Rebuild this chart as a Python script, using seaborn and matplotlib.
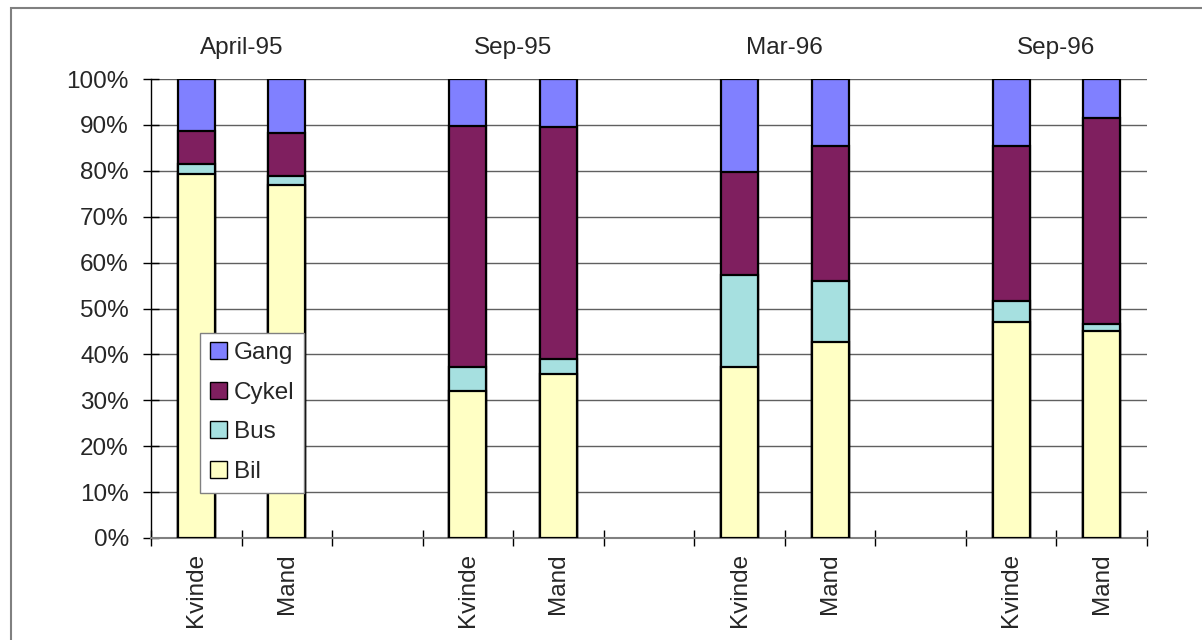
import numpy as np
import pandas as pd
import matplotlib
matplotlib.use("Agg")
import matplotlib.pyplot as plt
from matplotlib.patches import Patch, Rectangle
import seaborn as sns

# ---- data (percent of trips) ----
periods = ["April-95", "Sep-95", "Mar-96", "Sep-96"]
sexes = ["Kvinde", "Mand"]
modes = ["Gang", "Cykel", "Bus", "Bil"]  # legend order (top to bottom)
bil = [79.3, 76.8, 32.1, 35.7, 37.3, 42.7, 47.1, 45.2]
bus = [2.1, 2.1, 5.2, 3.3, 20.0, 13.4, 4.6, 1.5]
cykel = [7.3, 9.4, 52.5, 50.5, 22.4, 29.2, 33.6, 44.9]
gang = [11.3, 11.7, 10.2, 10.5, 20.3, 14.7, 14.7, 8.4]
colors = {"Gang": "#8080FF", "Cykel": "#7F1F5F", "Bus": "#A6E0E0", "Bil": "#FFFFC4"}

# ---- table ----
keys, per_col, sex_col = [], [], []
for p in periods:
    for s in sexes:
        keys.append(f"{p} {s}")
        per_col.append(p)
        sex_col.append(s)
df = pd.DataFrame({"key": keys, "period": per_col, "sex": sex_col,
                   "Bil": bil, "Bus": bus, "Cykel": cykel, "Gang": gang})
tot = df[["Bil", "Bus", "Cykel", "Gang"]].sum(axis=1)
for m in ["Bil", "Bus", "Cykel", "Gang"]:
    df[m] = df[m] / tot * 100
# cumulative tops for stacking (bottom -> top: Bil, Bus, Cykel, Gang)
df["c_Bil"] = df["Bil"]
df["c_Bus"] = df["c_Bil"] + df["Bus"]
df["c_Cykel"] = df["c_Bus"] + df["Cykel"]
df["c_Gang"] = df["c_Cykel"] + df["Gang"]

# category order with an empty slot between periods
order = []
for i, p in enumerate(periods):
    for s in sexes:
        order.append(f"{p} {s}")
    if i < len(periods) - 1:
        order.append(" " * (i + 1))

sns.set_style("white")
plt.rcParams["font.family"] = ["Liberation Sans", "DejaVu Sans"]
FS = 17.5

fig = plt.figure(figsize=(12.02, 6.4), dpi=100)
ax = fig.add_axes([151 / 1202, 102 / 640, (1147 - 151) / 1202, (538 - 79) / 640])

for m in ["Gang", "Cykel", "Bus", "Bil"]:
    sns.barplot(data=df, x="key", y=f"c_{m}", order=order, color=colors[m],
                saturation=1, edgecolor="black", linewidth=1.6, width=0.41,
                errorbar=None, ax=ax, zorder=3)

ax.set_xlabel("")
ax.set_ylabel("")
ax.set_ylim(0, 100)
ax.set_xlim(-0.5, len(order) - 0.5)

# y axis
yt = list(range(0, 101, 10))
ax.set_yticks(yt)
ax.set_yticklabels([f"{v}%" for v in yt], fontsize=FS)
ax.tick_params(axis="y", direction="inout", length=12, width=1, color="black",
               pad=10, left=True)
ax.yaxis.grid(True, color="#606060", linewidth=1)
ax.xaxis.grid(False)
ax.set_axisbelow(True)

# x axis: labels at bars, tick marks at slot boundaries
pos = [order.index(k) for k in keys]
ax.set_xticks(pos)
ax.set_xticklabels(sex_col, rotation=90, fontsize=FS)
ax.set_xticks(np.arange(-0.5, len(order), 1.0), minor=True)
ax.tick_params(axis="x", which="major", length=0, pad=11)
ax.tick_params(axis="x", which="minor", direction="inout", length=12, width=1,
               color="black", bottom=True)

for sp in ["top", "right"]:
    ax.spines[sp].set_visible(False)
ax.spines["left"].set_color("black")
ax.spines["left"].set_linewidth(1)
ax.spines["bottom"].set_color("#808080")
ax.spines["bottom"].set_linewidth(1.5)

# period labels above the groups
for p in periods:
    xs = [order.index(f"{p} {s}") for s in sexes]
    ax.text(np.mean(xs), 1.068, p, transform=ax.get_xaxis_transform(),
            ha="center", va="center", fontsize=FS)

# legend
handles = [Patch(facecolor=colors[m], edgecolor="black", linewidth=1, label=m)
           for m in modes]
leg = ax.legend(handles=handles, loc="lower left", bbox_to_anchor=(0.049, 0.099),
                borderaxespad=0, fontsize=FS, frameon=True, fancybox=False,
                edgecolor="#808080", framealpha=1, handlelength=0.7,
                handleheight=0.7, handletextpad=0.3, labelspacing=0.72,
                borderpad=0.4)
leg.get_frame().set_linewidth(1)
leg.set_zorder(10)

# outer chart frame
fig.patches.append(Rectangle((11 / 1202, -0.05), 1.2, 1.05 - 8.5 / 640,
                             transform=fig.transFigure, fill=False,
                             edgecolor="#808080", linewidth=1.5))

fig.savefig("out.png", dpi=100)
